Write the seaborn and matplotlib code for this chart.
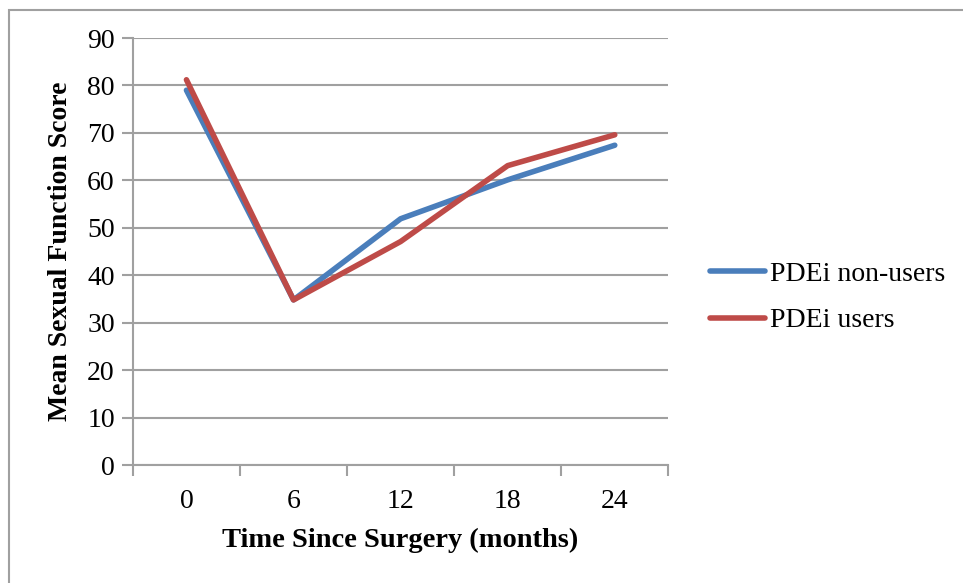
import pandas as pd
import matplotlib.pyplot as plt
import matplotlib.patches as mpatches
import seaborn as sns

months = ["0", "6", "12", "18", "24"]
non_users = [79.0, 34.8, 51.9, 60.1, 67.4]
users = [81.2, 34.8, 47.1, 63.1, 69.6]
series_names = ["PDEi non-users", "PDEi users"]

df = pd.DataFrame({
    "month": months * 2,
    "score": non_users + users,
    "group": [series_names[0]] * len(months) + [series_names[1]] * len(months),
})
df["pos"] = list(range(len(months))) * 2

sns.set_style("white")
plt.rcParams["font.family"] = ["Liberation Serif", "DejaVu Serif"]
plt.rcParams["text.color"] = "black"
plt.rcParams["axes.labelcolor"] = "black"
plt.rcParams["xtick.color"] = "black"
plt.rcParams["ytick.color"] = "black"

fig = plt.figure(figsize=(9.63, 5.83), dpi=100)
ax = fig.add_axes([0.138, 0.2024, 0.556, 0.7324])

grid_c = "#A0A0A0"
colors = ["#4A7EBB", "#BE4B48"]
sns.lineplot(data=df, x="pos", y="score", hue="group",
             palette=colors, linewidth=4.0, ax=ax,
             solid_capstyle="round", legend=False)

ax.set_xlim(-0.5, len(months) - 0.5)
ax.set_ylim(0, 90)
ax.set_yticks(range(0, 91, 10))
ax.set_xticks(range(len(months)))
ax.set_xticklabels(months)
ax.set_xticks([i - 0.5 for i in range(len(months) + 1)], minor=True)
ax.yaxis.grid(True, color=grid_c, linewidth=1.5)
ax.set_axisbelow(True)

for s in ["top", "right"]:
    ax.spines[s].set_visible(False)
for s in ["left", "bottom"]:
    ax.spines[s].set_color(grid_c)
    ax.spines[s].set_linewidth(1.5)

ax.tick_params(axis="y", length=8, width=1.5, color=grid_c, labelsize=20, pad=5, left=True)
ax.tick_params(axis="x", which="major", length=0, labelsize=20, pad=17)
ax.tick_params(axis="x", which="minor", length=8, width=1.5, color=grid_c, bottom=True)

ax.set_xlabel("Time Since Surgery (months)", fontsize=20.5, fontweight="bold", labelpad=10)
ax.set_ylabel("Mean Sexual Function Score", fontsize=20, fontweight="bold", labelpad=10)

handles = [plt.Line2D([], [], color=c, linewidth=4.0, solid_capstyle="round")
           for c in colors]
fig.legend(handles, series_names, loc="center left", bbox_to_anchor=(0.711, 0.4897),
           frameon=False, fontsize=20, handlelength=2.0, handletextpad=0.18,
           labelspacing=0.75)

fig.patches.append(mpatches.Rectangle((9 / 963, -0.1), 1.2, 1.1 - 10 / 583,
                                      transform=fig.transFigure, fill=False,
                                      edgecolor=grid_c, linewidth=1.5))

fig.savefig("out.png", dpi=100)
